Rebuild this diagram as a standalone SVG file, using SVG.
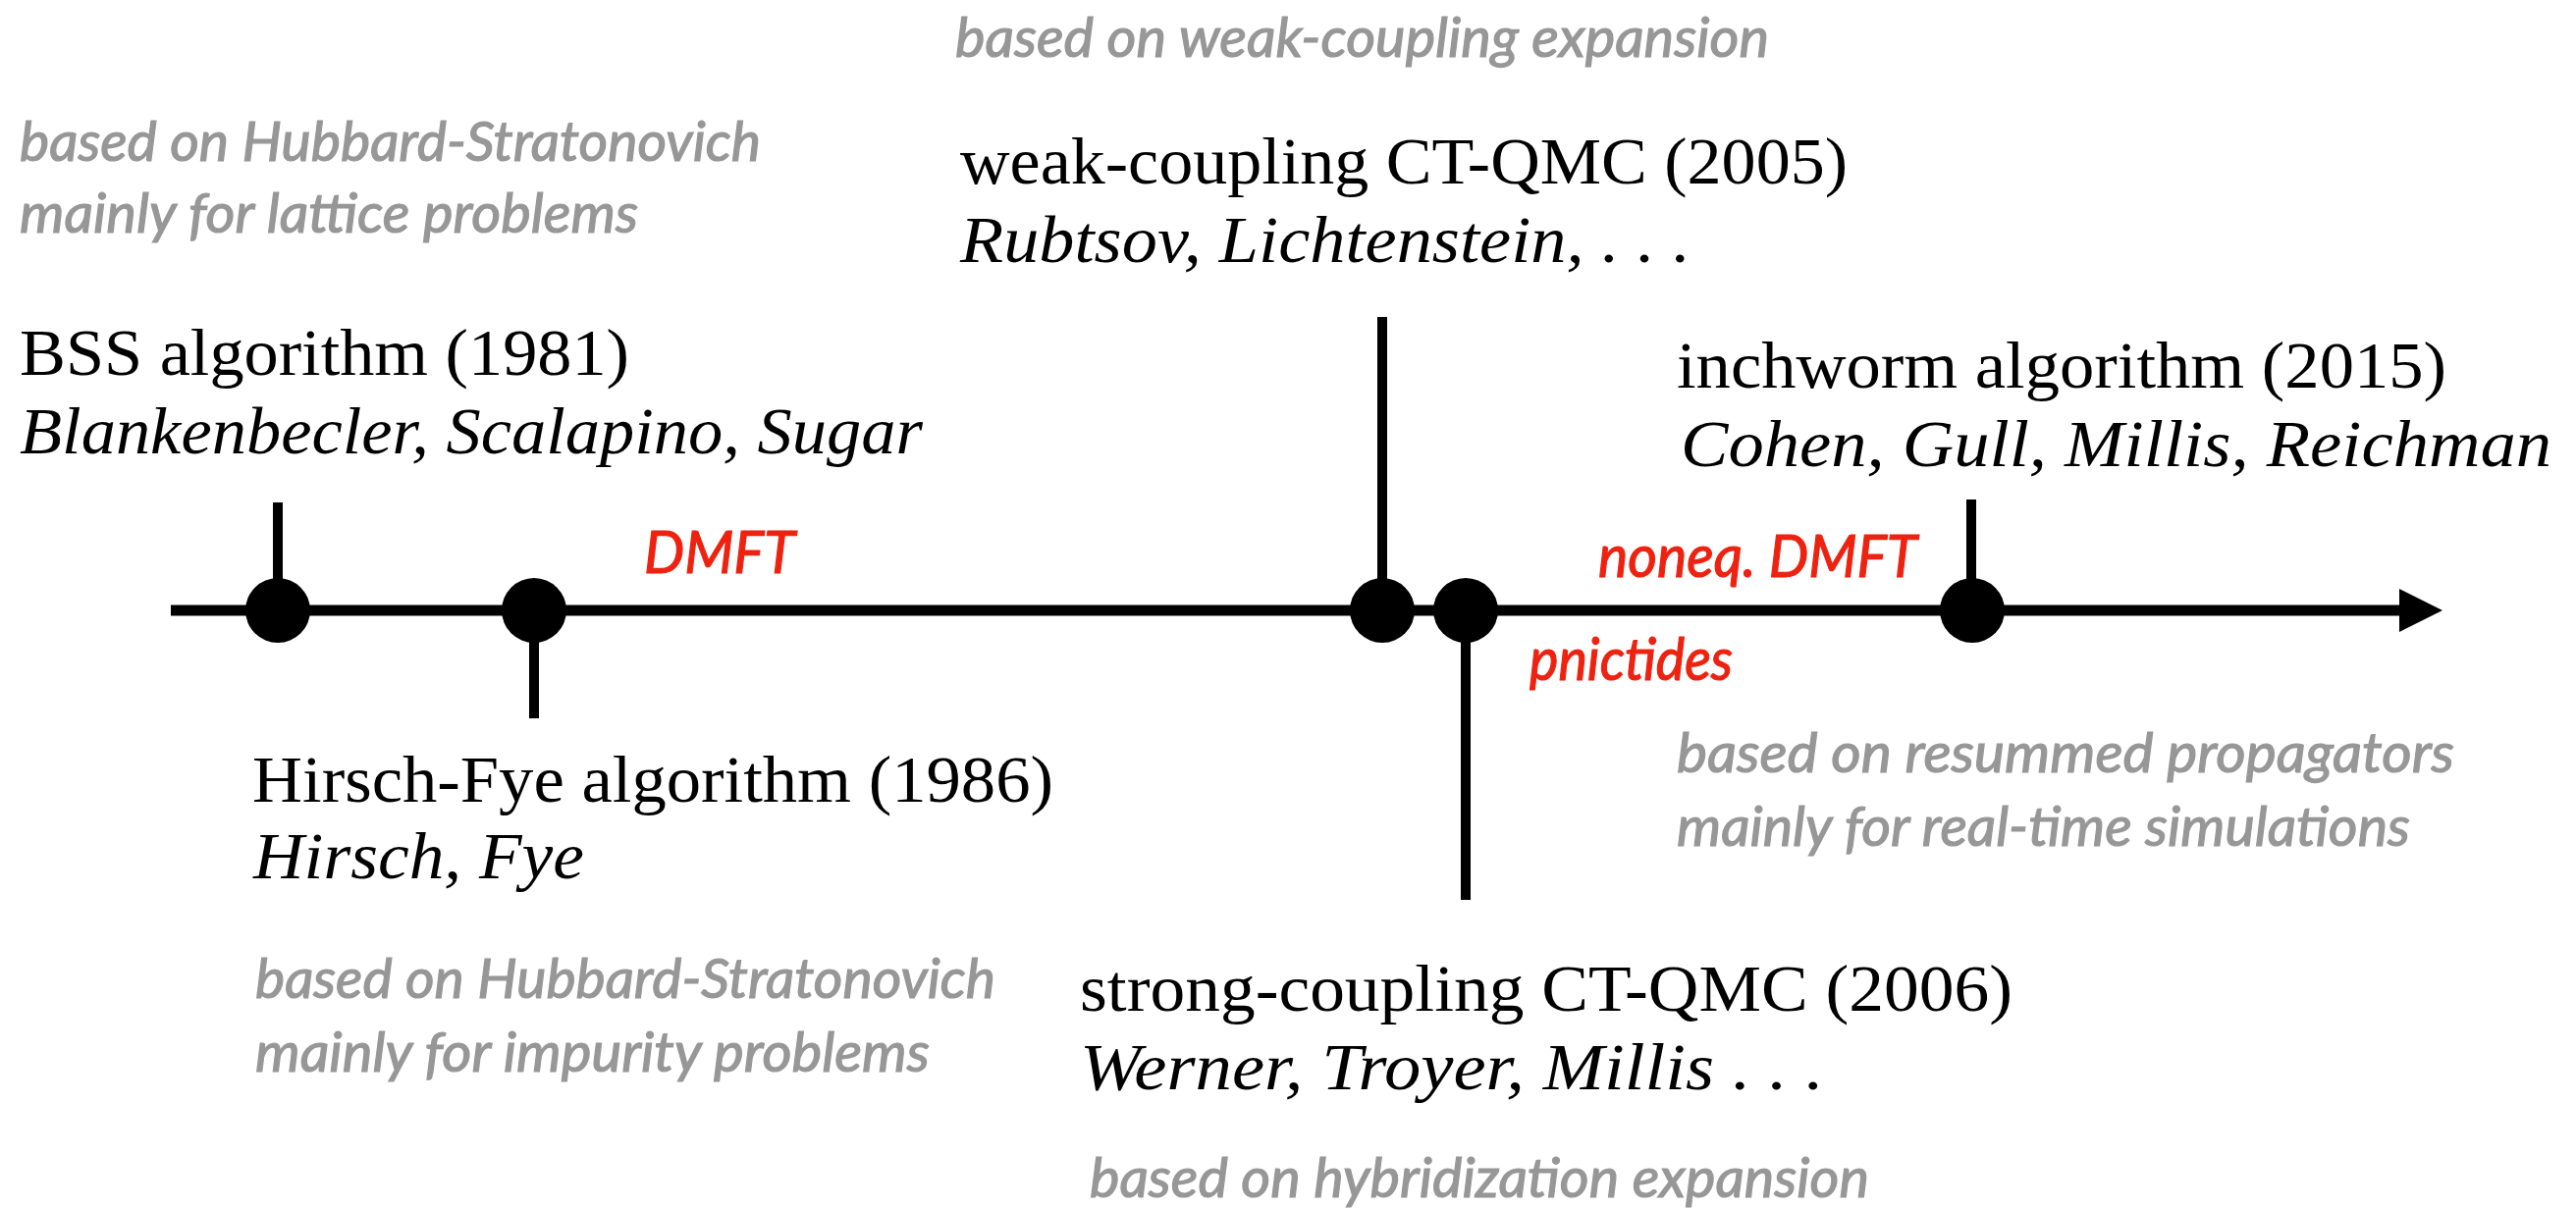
<svg xmlns="http://www.w3.org/2000/svg" width="2624" height="1231" viewBox="0 0 2624 1231">
  <style>
    .title { font-family: "Liberation Serif", "DejaVu Serif", serif; font-size: 68px; fill: #000; }
    .auth { font-family: "Liberation Serif", "DejaVu Serif", serif; font-size: 68px; font-style: italic; fill: #000; }
    .note { font-family: Lato, "Open Sans", "Liberation Sans", sans-serif; font-size: 57px; font-style: italic; fill: #979797; stroke: #979797; stroke-width: 1.2; }
    .era { font-family: Lato, "Open Sans", "Liberation Sans", sans-serif; font-size: 60px; font-style: italic; fill: #EE2210; stroke: #EE2210; stroke-width: 1.2; }
    .tick { stroke: #000; stroke-width: 10; fill: none; }
    .dot { fill: #000; }
    .axis { stroke: #000; stroke-width: 11; fill: none; }
  </style>
  <defs>
    <marker id="arrowhead" markerUnits="userSpaceOnUse" markerWidth="44" markerHeight="44" refX="0" refY="22" orient="auto">
      <path d="M0,0 L44,22 L0,44 Z" fill="#000"/>
    </marker>
  </defs>
  <rect width="2624" height="1231" fill="#fff"/>

  <!-- time axis -->
  <g id="connectors">
    <line class="axis" x1="174" y1="622" x2="2444" y2="622" marker-end="url(#arrowhead)"/>
  </g>

  <!-- BSS algorithm -->
  <g id="bss">
    <line class="tick" x1="283" y1="512" x2="283" y2="622"/>
    <circle class="dot" cx="283" cy="622" r="33"/>
    <text class="note" x="20" y="164" textLength="755" lengthAdjust="spacingAndGlyphs">based on Hubbard-Stratonovich</text>
    <text class="note" x="20" y="237" textLength="630" lengthAdjust="spacingAndGlyphs">mainly for lattice problems</text>
    <text class="title" x="20" y="382" textLength="621" lengthAdjust="spacingAndGlyphs">BSS algorithm (1981)</text>
    <text class="auth" x="20" y="462" textLength="920" lengthAdjust="spacingAndGlyphs">Blankenbecler, Scalapino, Sugar</text>
  </g>

  <!-- Hirsch-Fye algorithm -->
  <g id="hirsch-fye">
    <line class="tick" x1="544" y1="622" x2="544" y2="732"/>
    <circle class="dot" cx="544" cy="622" r="33"/>
    <text class="title" x="257" y="817" textLength="816" lengthAdjust="spacingAndGlyphs">Hirsch-Fye algorithm (1986)</text>
    <text class="auth" x="258" y="895" textLength="337" lengthAdjust="spacingAndGlyphs">Hirsch, Fye</text>
    <text class="note" x="260" y="1017" textLength="754" lengthAdjust="spacingAndGlyphs">based on Hubbard-Stratonovich</text>
    <text class="note" x="260" y="1092" textLength="687" lengthAdjust="spacingAndGlyphs">mainly for impurity problems</text>
  </g>

  <!-- DMFT -->
  <g id="dmft">
    <text class="era" x="656" y="584" textLength="154" lengthAdjust="spacingAndGlyphs">DMFT</text>
  </g>

  <!-- weak-coupling CT-QMC -->
  <g id="weak-coupling">
    <line class="tick" x1="1408" y1="323" x2="1408" y2="622"/>
    <circle class="dot" cx="1408" cy="622" r="33"/>
    <text class="note" x="973" y="58" textLength="829" lengthAdjust="spacingAndGlyphs">based on weak-coupling expansion</text>
    <text class="title" x="978" y="187" textLength="904" lengthAdjust="spacingAndGlyphs">weak-coupling CT-QMC (2005)</text>
    <text class="auth" x="978" y="267" textLength="744" lengthAdjust="spacingAndGlyphs">Rubtsov, Lichtenstein, . . .</text>
  </g>

  <!-- strong-coupling CT-QMC -->
  <g id="strong-coupling">
    <line class="tick" x1="1493" y1="622" x2="1493" y2="917"/>
    <circle class="dot" cx="1493" cy="622" r="33"/>
    <text class="title" x="1100" y="1030" textLength="950" lengthAdjust="spacingAndGlyphs">strong-coupling CT-QMC (2006)</text>
    <text class="auth" x="1100" y="1110" textLength="758" lengthAdjust="spacingAndGlyphs">Werner, Troyer, Millis . . .</text>
    <text class="note" x="1110" y="1220" textLength="794" lengthAdjust="spacingAndGlyphs">based on hybridization expansion</text>
  </g>

  <!-- pnictides -->
  <g id="pnictides">
    <text class="era" x="1558" y="693" textLength="207" lengthAdjust="spacingAndGlyphs">pnictides</text>
  </g>

  <!-- noneq. DMFT -->
  <g id="noneq-dmft">
    <text class="era" x="1628" y="588" textLength="325" lengthAdjust="spacingAndGlyphs">noneq. DMFT</text>
  </g>

  <!-- inchworm algorithm -->
  <g id="inchworm">
    <line class="tick" x1="2008" y1="509" x2="2008" y2="622"/>
    <circle class="dot" cx="2009" cy="622" r="33"/>
    <text class="title" x="1708" y="395" textLength="784" lengthAdjust="spacingAndGlyphs">inchworm algorithm (2015)</text>
    <text class="auth" x="1712" y="475" textLength="887" lengthAdjust="spacingAndGlyphs">Cohen, Gull, Millis, Reichman</text>
    <text class="note" x="1708" y="787" textLength="792" lengthAdjust="spacingAndGlyphs">based on resummed propagators</text>
    <text class="note" x="1708" y="862" textLength="747" lengthAdjust="spacingAndGlyphs">mainly for real-time simulations</text>
  </g>
</svg>
